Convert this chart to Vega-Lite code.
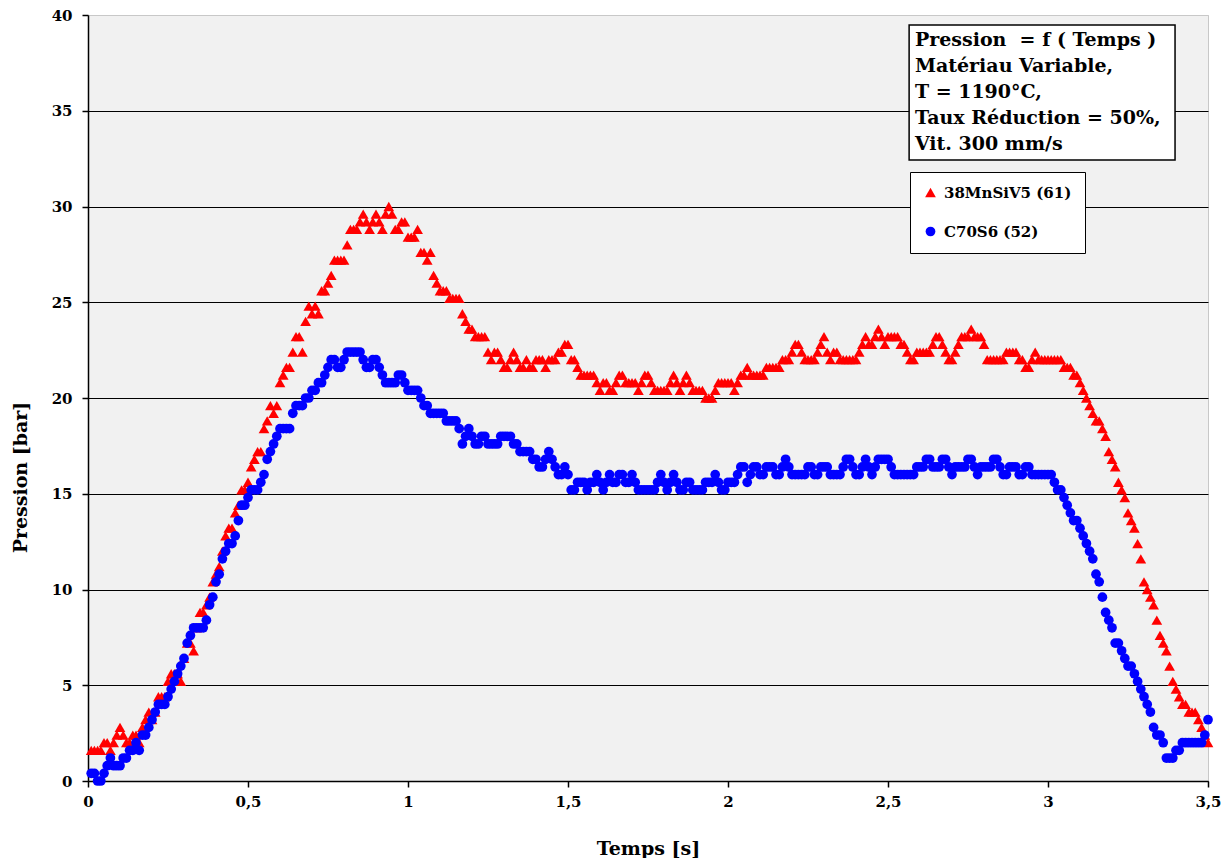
{
"$schema": "https://vega.github.io/schema/vega-lite/v6.json",
"width": 1120, "height": 766,
"autosize": {"type": "none"},
"padding": {"left": 88, "top": 15, "right": 19, "bottom": 77},
"background": "white",
"config": {
  "view": {"fill": "#F1F1F1", "stroke": "#C8C8C8", "strokeWidth": 1},
  "font": "DejaVu Serif"
},
"layer": [
{
"data": {"values": [
{"t":0.01,"r":1.6,"b":0.4},{"t":0.02,"r":1.6,"b":0.4},{"t":0.03,"r":1.6,"b":0.0},{"t":0.04,"r":1.6,"b":0.0},{"t":0.05,"r":2.0,"b":0.4},
{"t":0.06,"r":2.0,"b":0.8},{"t":0.07,"r":1.6,"b":1.2},{"t":0.08,"r":2.0,"b":0.8},{"t":0.09,"r":2.4,"b":0.8},{"t":0.10,"r":2.8,"b":0.8},
{"t":0.11,"r":2.4,"b":1.2},{"t":0.12,"r":2.0,"b":1.2},{"t":0.13,"r":2.0,"b":1.6},{"t":0.14,"r":2.4,"b":1.6},{"t":0.15,"r":2.4,"b":2.0},
{"t":0.16,"r":2.0,"b":1.6},{"t":0.17,"r":2.8,"b":2.4},{"t":0.18,"r":3.2,"b":2.4},{"t":0.19,"r":3.6,"b":2.8},{"t":0.20,"r":3.2,"b":3.2},
{"t":0.21,"r":3.6,"b":3.6},{"t":0.22,"r":4.4,"b":4.0},{"t":0.23,"r":4.4,"b":4.0},{"t":0.24,"r":4.4,"b":4.0},{"t":0.25,"r":5.2,"b":4.4},
{"t":0.26,"r":5.6,"b":4.8},{"t":0.27,"r":5.6,"b":5.2},{"t":0.28,"r":5.6,"b":5.6},{"t":0.29,"r":5.2,"b":6.0},{"t":0.30,"r":6.4,"b":6.4},
{"t":0.31,"r":7.2,"b":7.2},{"t":0.32,"r":7.2,"b":7.6},{"t":0.33,"r":6.8,"b":8.0},{"t":0.34,"r":8.0,"b":8.0},{"t":0.35,"r":8.8,"b":8.0},
{"t":0.36,"r":8.8,"b":8.0},{"t":0.37,"r":9.2,"b":8.4},{"t":0.38,"r":9.6,"b":9.2},{"t":0.39,"r":10.4,"b":9.6},{"t":0.40,"r":10.8,"b":10.4},
{"t":0.41,"r":11.2,"b":10.8},{"t":0.42,"r":12.0,"b":11.6},{"t":0.43,"r":12.8,"b":12.0},{"t":0.44,"r":13.2,"b":12.4},{"t":0.45,"r":13.2,"b":12.4},
{"t":0.46,"r":14.0,"b":12.8},{"t":0.47,"r":14.4,"b":13.6},{"t":0.48,"r":15.2,"b":14.4},{"t":0.49,"r":15.2,"b":14.4},{"t":0.50,"r":15.6,"b":14.8},
{"t":0.51,"r":16.4,"b":15.2},{"t":0.52,"r":16.8,"b":15.2},{"t":0.53,"r":17.2,"b":15.2},{"t":0.54,"r":17.2,"b":15.6},{"t":0.55,"r":18.4,"b":16.0},
{"t":0.56,"r":18.8,"b":16.8},{"t":0.57,"r":19.6,"b":17.2},{"t":0.58,"r":19.2,"b":17.6},{"t":0.59,"r":19.6,"b":18.0},{"t":0.60,"r":20.8,"b":18.4},
{"t":0.61,"r":21.2,"b":18.4},{"t":0.62,"r":21.6,"b":18.4},{"t":0.63,"r":21.6,"b":18.4},{"t":0.64,"r":22.4,"b":19.2},{"t":0.65,"r":23.2,"b":19.6},
{"t":0.66,"r":23.2,"b":19.6},{"t":0.67,"r":22.4,"b":19.6},{"t":0.68,"r":24.0,"b":20.0},{"t":0.69,"r":24.8,"b":20.0},{"t":0.70,"r":24.4,"b":20.4},
{"t":0.71,"r":24.8,"b":20.4},{"t":0.72,"r":24.4,"b":20.8},{"t":0.73,"r":25.6,"b":20.8},{"t":0.74,"r":25.6,"b":21.2},{"t":0.75,"r":26.0,"b":21.6},
{"t":0.76,"r":26.4,"b":22.0},{"t":0.77,"r":27.2,"b":22.0},{"t":0.78,"r":27.2,"b":21.6},{"t":0.79,"r":27.2,"b":21.6},{"t":0.80,"r":27.2,"b":22.0},
{"t":0.81,"r":28.0,"b":22.4},{"t":0.82,"r":28.8,"b":22.4},{"t":0.83,"r":28.8,"b":22.4},{"t":0.84,"r":28.8,"b":22.4},{"t":0.85,"r":29.2,"b":22.4},
{"t":0.86,"r":29.6,"b":22.0},{"t":0.87,"r":29.2,"b":21.6},{"t":0.88,"r":28.8,"b":21.6},{"t":0.89,"r":29.2,"b":22.0},{"t":0.90,"r":29.6,"b":22.0},
{"t":0.91,"r":29.2,"b":21.6},{"t":0.92,"r":28.8,"b":21.2},{"t":0.93,"r":29.6,"b":20.8},{"t":0.94,"r":30.0,"b":20.8},{"t":0.95,"r":29.6,"b":20.8},
{"t":0.96,"r":28.8,"b":20.8},{"t":0.97,"r":28.8,"b":21.2},{"t":0.98,"r":29.2,"b":21.2},{"t":0.99,"r":29.2,"b":20.8},{"t":1.00,"r":28.4,"b":20.4},
{"t":1.01,"r":28.4,"b":20.4},{"t":1.02,"r":28.4,"b":20.4},{"t":1.03,"r":28.8,"b":20.4},{"t":1.04,"r":27.6,"b":20.0},{"t":1.05,"r":27.6,"b":19.6},
{"t":1.06,"r":27.2,"b":19.6},{"t":1.07,"r":27.6,"b":19.2},{"t":1.08,"r":26.4,"b":19.2},{"t":1.09,"r":26.0,"b":19.2},{"t":1.10,"r":25.6,"b":19.2},
{"t":1.11,"r":25.6,"b":19.2},{"t":1.12,"r":25.6,"b":18.8},{"t":1.13,"r":25.2,"b":18.8},{"t":1.14,"r":25.2,"b":18.8},{"t":1.15,"r":25.2,"b":18.8},
{"t":1.16,"r":25.2,"b":18.4},{"t":1.17,"r":24.4,"b":17.6},{"t":1.18,"r":24.0,"b":18.0},{"t":1.19,"r":23.6,"b":18.4},{"t":1.20,"r":23.6,"b":18.0},
{"t":1.21,"r":23.2,"b":17.6},{"t":1.22,"r":23.2,"b":17.6},{"t":1.23,"r":23.2,"b":18.0},{"t":1.24,"r":23.2,"b":18.0},{"t":1.25,"r":22.4,"b":17.6},
{"t":1.26,"r":22.0,"b":17.6},{"t":1.27,"r":22.4,"b":17.6},{"t":1.28,"r":22.4,"b":17.6},{"t":1.29,"r":22.0,"b":18.0},{"t":1.30,"r":21.6,"b":18.0},
{"t":1.31,"r":21.6,"b":18.0},{"t":1.32,"r":22.0,"b":18.0},{"t":1.33,"r":22.4,"b":17.6},{"t":1.34,"r":22.0,"b":17.6},{"t":1.35,"r":21.6,"b":17.2},
{"t":1.36,"r":21.6,"b":17.2},{"t":1.37,"r":22.0,"b":17.2},{"t":1.38,"r":21.6,"b":17.2},{"t":1.39,"r":21.6,"b":16.8},{"t":1.40,"r":22.0,"b":16.8},
{"t":1.41,"r":22.0,"b":16.4},{"t":1.42,"r":22.0,"b":16.4},{"t":1.43,"r":21.6,"b":16.8},{"t":1.44,"r":22.0,"b":17.2},{"t":1.45,"r":22.0,"b":16.8},
{"t":1.46,"r":22.0,"b":16.4},{"t":1.47,"r":22.4,"b":16.0},{"t":1.48,"r":22.4,"b":16.0},{"t":1.49,"r":22.8,"b":16.4},{"t":1.50,"r":22.8,"b":16.0},
{"t":1.51,"r":22.0,"b":15.2},{"t":1.52,"r":22.0,"b":15.2},{"t":1.53,"r":21.6,"b":15.6},{"t":1.54,"r":21.2,"b":15.6},{"t":1.55,"r":21.2,"b":15.6},
{"t":1.56,"r":21.2,"b":15.2},{"t":1.57,"r":21.2,"b":15.6},{"t":1.58,"r":21.2,"b":15.6},{"t":1.59,"r":20.8,"b":16.0},{"t":1.60,"r":20.4,"b":15.6},
{"t":1.61,"r":20.8,"b":15.2},{"t":1.62,"r":20.8,"b":15.6},{"t":1.63,"r":20.4,"b":16.0},{"t":1.64,"r":20.4,"b":15.6},{"t":1.65,"r":20.8,"b":15.6},
{"t":1.66,"r":21.2,"b":16.0},{"t":1.67,"r":21.2,"b":16.0},{"t":1.68,"r":20.8,"b":15.6},{"t":1.69,"r":20.8,"b":15.6},{"t":1.70,"r":20.8,"b":16.0},
{"t":1.71,"r":20.8,"b":15.6},{"t":1.72,"r":20.4,"b":15.2},{"t":1.73,"r":20.8,"b":15.2},{"t":1.74,"r":21.2,"b":15.2},{"t":1.75,"r":21.2,"b":15.2},
{"t":1.76,"r":20.8,"b":15.2},{"t":1.77,"r":20.4,"b":15.2},{"t":1.78,"r":20.4,"b":15.6},{"t":1.79,"r":20.4,"b":16.0},{"t":1.80,"r":20.4,"b":15.6},
{"t":1.81,"r":20.4,"b":15.2},{"t":1.82,"r":20.8,"b":15.6},{"t":1.83,"r":21.2,"b":16.0},{"t":1.84,"r":20.8,"b":15.6},{"t":1.85,"r":20.4,"b":15.2},
{"t":1.86,"r":20.8,"b":15.2},{"t":1.87,"r":21.2,"b":15.6},{"t":1.88,"r":20.8,"b":15.6},{"t":1.89,"r":20.4,"b":15.2},{"t":1.90,"r":20.4,"b":15.2},
{"t":1.91,"r":20.4,"b":15.2},{"t":1.92,"r":20.4,"b":15.2},{"t":1.93,"r":20.0,"b":15.6},{"t":1.94,"r":20.0,"b":15.6},{"t":1.95,"r":20.0,"b":15.6},
{"t":1.96,"r":20.4,"b":16.0},{"t":1.97,"r":20.8,"b":15.6},{"t":1.98,"r":20.8,"b":15.2},{"t":1.99,"r":20.8,"b":15.2},{"t":2.00,"r":20.8,"b":15.6},
{"t":2.01,"r":20.8,"b":15.6},{"t":2.02,"r":20.4,"b":15.6},{"t":2.03,"r":20.8,"b":16.0},{"t":2.04,"r":21.2,"b":16.4},{"t":2.05,"r":21.2,"b":16.4},
{"t":2.06,"r":21.6,"b":15.6},{"t":2.07,"r":21.2,"b":16.0},{"t":2.08,"r":21.2,"b":16.4},{"t":2.09,"r":21.2,"b":16.4},{"t":2.10,"r":21.2,"b":16.0},
{"t":2.11,"r":21.2,"b":16.0},{"t":2.12,"r":21.6,"b":16.4},{"t":2.13,"r":21.6,"b":16.4},{"t":2.14,"r":21.6,"b":16.4},{"t":2.15,"r":21.6,"b":16.0},
{"t":2.16,"r":21.6,"b":16.0},{"t":2.17,"r":22.0,"b":16.4},{"t":2.18,"r":22.0,"b":16.8},{"t":2.19,"r":22.0,"b":16.4},{"t":2.20,"r":22.4,"b":16.0},
{"t":2.21,"r":22.8,"b":16.0},{"t":2.22,"r":22.8,"b":16.0},{"t":2.23,"r":22.4,"b":16.0},{"t":2.24,"r":22.0,"b":16.0},{"t":2.25,"r":22.0,"b":16.4},
{"t":2.26,"r":22.0,"b":16.4},{"t":2.27,"r":22.0,"b":16.0},{"t":2.28,"r":22.4,"b":16.0},{"t":2.29,"r":22.8,"b":16.4},{"t":2.30,"r":23.2,"b":16.4},
{"t":2.31,"r":22.4,"b":16.4},{"t":2.32,"r":22.0,"b":16.0},{"t":2.33,"r":22.4,"b":16.0},{"t":2.34,"r":22.4,"b":16.0},{"t":2.35,"r":22.0,"b":16.0},
{"t":2.36,"r":22.0,"b":16.4},{"t":2.37,"r":22.0,"b":16.8},{"t":2.38,"r":22.0,"b":16.8},{"t":2.39,"r":22.0,"b":16.4},{"t":2.40,"r":22.0,"b":16.0},
{"t":2.41,"r":22.4,"b":16.0},{"t":2.42,"r":22.8,"b":16.4},{"t":2.43,"r":23.2,"b":16.8},{"t":2.44,"r":22.8,"b":16.4},{"t":2.45,"r":22.8,"b":16.0},
{"t":2.46,"r":23.2,"b":16.4},{"t":2.47,"r":23.6,"b":16.8},{"t":2.48,"r":23.2,"b":16.8},{"t":2.49,"r":22.8,"b":16.8},{"t":2.50,"r":23.2,"b":16.8},
{"t":2.51,"r":23.2,"b":16.4},{"t":2.52,"r":23.2,"b":16.0},{"t":2.53,"r":23.2,"b":16.0},{"t":2.54,"r":22.8,"b":16.0},{"t":2.55,"r":22.8,"b":16.0},
{"t":2.56,"r":22.4,"b":16.0},{"t":2.57,"r":22.0,"b":16.0},{"t":2.58,"r":22.0,"b":16.0},{"t":2.59,"r":22.4,"b":16.4},{"t":2.60,"r":22.4,"b":16.4},
{"t":2.61,"r":22.4,"b":16.4},{"t":2.62,"r":22.4,"b":16.8},{"t":2.63,"r":22.4,"b":16.8},{"t":2.64,"r":22.8,"b":16.4},{"t":2.65,"r":23.2,"b":16.4},
{"t":2.66,"r":23.2,"b":16.4},{"t":2.67,"r":22.8,"b":16.8},{"t":2.68,"r":22.4,"b":16.8},{"t":2.69,"r":22.0,"b":16.4},{"t":2.70,"r":22.0,"b":16.0},
{"t":2.71,"r":22.4,"b":16.4},{"t":2.72,"r":22.8,"b":16.4},{"t":2.73,"r":23.2,"b":16.4},{"t":2.74,"r":23.2,"b":16.4},{"t":2.75,"r":23.2,"b":16.8},
{"t":2.76,"r":23.6,"b":16.8},{"t":2.77,"r":23.2,"b":16.4},{"t":2.78,"r":23.2,"b":16.0},{"t":2.79,"r":23.2,"b":16.4},{"t":2.80,"r":22.8,"b":16.4},
{"t":2.81,"r":22.0,"b":16.4},{"t":2.82,"r":22.0,"b":16.4},{"t":2.83,"r":22.0,"b":16.8},{"t":2.84,"r":22.0,"b":16.8},{"t":2.85,"r":22.0,"b":16.4},
{"t":2.86,"r":22.0,"b":16.0},{"t":2.87,"r":22.4,"b":16.0},{"t":2.88,"r":22.4,"b":16.4},{"t":2.89,"r":22.4,"b":16.4},{"t":2.90,"r":22.4,"b":16.4},
{"t":2.91,"r":22.0,"b":16.0},{"t":2.92,"r":22.0,"b":16.0},{"t":2.93,"r":21.6,"b":16.4},{"t":2.94,"r":21.6,"b":16.4},{"t":2.95,"r":22.0,"b":16.0},
{"t":2.96,"r":22.4,"b":16.0},{"t":2.97,"r":22.0,"b":16.0},{"t":2.98,"r":22.0,"b":16.0},{"t":2.99,"r":22.0,"b":16.0},{"t":3.00,"r":22.0,"b":16.0},
{"t":3.01,"r":22.0,"b":16.0},{"t":3.02,"r":22.0,"b":15.6},{"t":3.03,"r":22.0,"b":15.2},{"t":3.04,"r":22.0,"b":15.2},{"t":3.05,"r":21.6,"b":14.8},
{"t":3.06,"r":21.6,"b":14.4},{"t":3.07,"r":21.6,"b":14.0},{"t":3.08,"r":21.2,"b":13.6},{"t":3.09,"r":21.2,"b":13.6},{"t":3.10,"r":20.8,"b":13.2},
{"t":3.11,"r":20.4,"b":12.8},{"t":3.12,"r":20.0,"b":12.4},{"t":3.13,"r":19.6,"b":12.0},{"t":3.14,"r":19.2,"b":11.6},{"t":3.15,"r":18.8,"b":10.8},
{"t":3.16,"r":18.8,"b":10.4},{"t":3.17,"r":18.4,"b":9.6},{"t":3.18,"r":18.0,"b":8.8},{"t":3.19,"r":17.2,"b":8.4},{"t":3.20,"r":16.8,"b":8.0},
{"t":3.21,"r":16.4,"b":7.2},{"t":3.22,"r":15.6,"b":7.2},{"t":3.23,"r":15.2,"b":6.8},{"t":3.24,"r":14.8,"b":6.4},{"t":3.25,"r":14.0,"b":6.0},
{"t":3.26,"r":13.6,"b":6.0},{"t":3.27,"r":13.2,"b":5.6},{"t":3.28,"r":12.4,"b":5.2},{"t":3.29,"r":11.6,"b":4.8},{"t":3.30,"r":10.4,"b":4.4},
{"t":3.31,"r":10.0,"b":4.0},{"t":3.32,"r":9.6,"b":3.6},{"t":3.33,"r":9.2,"b":2.8},{"t":3.34,"r":8.4,"b":2.4},{"t":3.35,"r":7.6,"b":2.4},
{"t":3.36,"r":7.2,"b":2.0},{"t":3.37,"r":6.8,"b":1.2},{"t":3.38,"r":6.0,"b":1.2},{"t":3.39,"r":5.2,"b":1.2},{"t":3.40,"r":4.8,"b":1.6},
{"t":3.41,"r":4.4,"b":1.6},{"t":3.42,"r":4.0,"b":2.0},{"t":3.43,"r":4.0,"b":2.0},{"t":3.44,"r":3.6,"b":2.0},{"t":3.45,"r":3.6,"b":2.0},
{"t":3.46,"r":3.6,"b":2.0},{"t":3.47,"r":3.2,"b":2.0},{"t":3.48,"r":2.8,"b":2.0},{"t":3.49,"r":2.4,"b":2.4},{"t":3.50,"r":2.0,"b":3.2}
]},
"transform": [{"fold": ["r", "b"], "as": ["serie", "p"]}],
"mark": {"type": "point", "filled": true, "opacity": 1, "strokeWidth": 0},
"encoding": {
  "x": {"field": "t", "type": "quantitative", "scale": {"domain": [0, 3.5], "nice": false},
    "axis": {"title": "Temps [s]", "values": [0, 0.5, 1, 1.5, 2, 2.5, 3, 3.5], "labelExpr": "replace(format(datum.value, '~g'), '.', ',')",
      "grid": false, "domainColor": "black", "domainWidth": 1.5, "tickColor": "black", "tickWidth": 1.5, "tickSize": 6,
      "labelFont": "DejaVu Serif", "labelFontWeight": "bold", "labelFontSize": 15, "labelColor": "black", "labelPadding": 7,
      "labelFlush": false, "labelOverlap": false,
      "titleFont": "DejaVu Serif", "titleFontWeight": "bold", "titleFontSize": 19, "titleColor": "black",
      "titleY": 67, "titleBaseline": "middle"}},
  "y": {"field": "p", "type": "quantitative", "scale": {"domain": [0, 40], "nice": false},
    "axis": {"title": "Pression [bar]", "values": [0, 5, 10, 15, 20, 25, 30, 35, 40],
      "grid": true, "gridColor": {"condition": {"test": "datum.value == 40", "value": "#C8C8C8"}, "value": "black"}, "gridWidth": 1.2,
      "domainColor": "black", "domainWidth": 1.5, "tickColor": "black", "tickWidth": 1.5, "tickSize": 6,
      "labelFont": "DejaVu Serif", "labelFontWeight": "bold", "labelFontSize": 15, "labelColor": "black", "labelPadding": 10,
      "titleFont": "DejaVu Serif", "titleFontWeight": "bold", "titleFontSize": 19, "titleColor": "black",
      "titleX": -68, "titleY": 462, "titleAngle": 270, "titleAlign": "center", "titleBaseline": "middle"}},
  "color": {"field": "serie", "type": "nominal", "scale": {"domain": ["r", "b"], "range": ["#FF0000", "#0000FF"]},
    "legend": {"title": null, "orient": "none", "legendX": 822, "legendY": 157, "strokeColor": "black", "fillColor": "white",
      "padding": 13, "rowPadding": 23, "labelFont": "DejaVu Serif", "labelFontWeight": "bold", "labelFontSize": 15, "labelColor": "black",
      "symbolSize": 40, "labelOffset": 6, "labelExpr": "datum.value == 'r' ? '38MnSiV5 (61)' : 'C70S6 (52)'"}},
  "shape": {"field": "serie", "type": "nominal", "scale": {"domain": ["r", "b"], "range": ["triangle-up", "circle"]},
    "legend": {"title": null, "orient": "none", "legendX": 822, "legendY": 157, "strokeColor": "black", "fillColor": "white",
      "padding": 13, "rowPadding": 23, "labelFont": "DejaVu Serif", "labelFontWeight": "bold", "labelFontSize": 15, "labelColor": "black",
      "symbolSize": 40, "labelOffset": 6, "labelExpr": "datum.value == 'r' ? '38MnSiV5 (61)' : 'C70S6 (52)'"}},
  "size": {"field": "serie", "type": "nominal", "scale": {"domain": ["r", "b"], "range": [115, 95]}, "legend": null},
  "order": {"field": "serie", "sort": "descending"}
}
},
{
"data": {"values": [{}]},
"mark": {"type": "rect", "fill": "white", "stroke": "black", "strokeWidth": 1.5},
"encoding": {
  "x": {"datum": 2.566, "type": "quantitative"},
  "x2": {"datum": 3.397},
  "y": {"datum": 39.48, "type": "quantitative"},
  "y2": {"datum": 32.43}
}
},
{
"data": {"values": [{}]},
"mark": {"type": "text", "text": ["Pression\u00a0\u00a0= f ( Temps )", "Matériau Variable,", "T = 1190°C,", "Taux Réduction = 50%,", "Vit. 300 mm/s"],
  "align": "left", "baseline": "top", "font": "DejaVu Serif", "fontWeight": "bold", "fontSize": 19, "lineHeight": 26, "color": "black"},
"encoding": {
  "x": {"datum": 2.584, "type": "quantitative"},
  "y": {"datum": 39.16, "type": "quantitative"}
}
}
]
}
